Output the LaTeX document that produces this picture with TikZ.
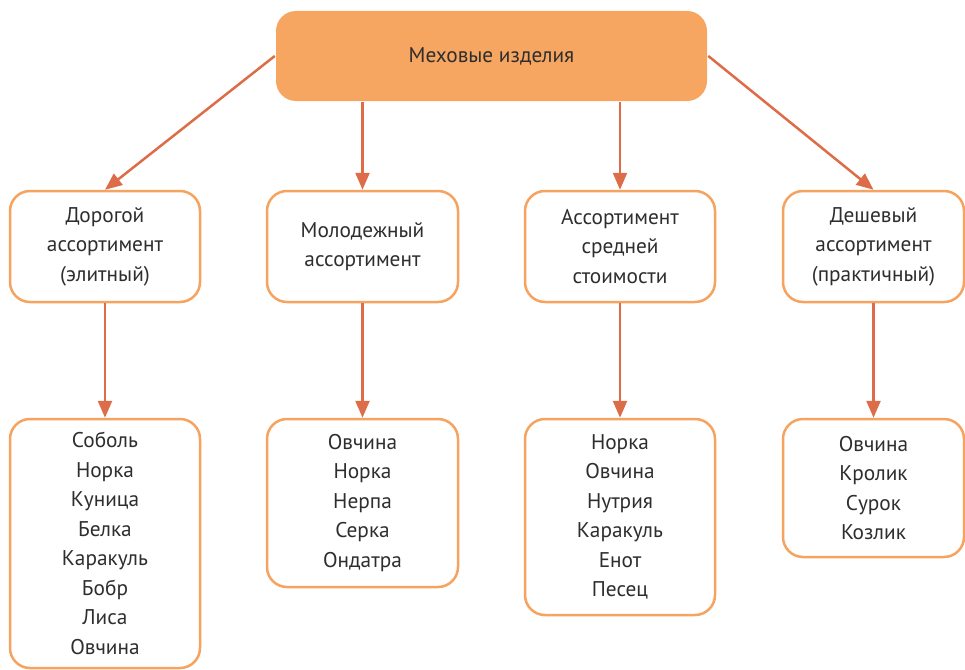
\documentclass[tikz,border=0pt]{standalone}
\usepackage{fontspec}
\setmainfont{PT Sans}
\usetikzlibrary{arrows.meta}
\definecolor{furfill}{HTML}{F7A662}
\definecolor{furedge}{HTML}{F6A35F}
\definecolor{furarrow}{HTML}{DD6D48}
\definecolor{furtext}{HTML}{2E2E2E}
\begin{document}
\begin{tikzpicture}[x=1pt,y=-1pt,
  box/.style={draw=furedge, line width=2.5pt, rounded corners=20pt, fill=white,
    inner sep=0pt, align=center, text=furtext,
    font=\fontsize{21.3}{29.5}\selectfont},
  headbox/.style={box, draw=none, fill=furfill},
  link/.style={draw=furarrow, line width=2.5pt, -{Triangle[length=17pt,width=14pt]}}]
\useasboundingbox (0,0) rectangle (965,669);

% root
\node[headbox, minimum width=431pt, minimum height=90pt] (top) at (491.5,56) {Меховые изделия};

% assortment groups
\node[box, minimum width=190pt, minimum height=111pt] (b1) at (105,246.5) {Дорогой\\ассортимент\\(элитный)};
\node[box, minimum width=191pt, minimum height=111pt] (b2) at (362.5,246.5) {Молодежный\\ассортимент};
\node[box, minimum width=190pt, minimum height=111pt] (b3) at (620,246.5) {Ассортимент\\средней\\стоимости};
\node[box, minimum width=181pt, minimum height=111pt] (b4) at (873.5,246.5) {Дешевый\\ассортимент\\(практичный)};

% fur lists
\node[box, minimum width=190pt, minimum height=249pt] (c1) at (105,543.5) {Соболь\\Норка\\Куница\\Белка\\Каракуль\\Бобр\\Лиса\\Овчина};
\node[box, minimum width=191pt, minimum height=168pt] (c2) at (362.5,503) {Овчина\\Норка\\Нерпа\\Серка\\Ондатра};
\node[box, minimum width=190pt, minimum height=196pt] (c3) at (620,517) {Норка\\Овчина\\Нутрия\\Каракуль\\Енот\\Песец};
\node[box, minimum width=181pt, minimum height=138pt] (c4) at (873.5,488) {Овчина\\Кролик\\Сурок\\Козлик};

% connectors
\draw[link] (top.west) -- (b1.north);
\draw[link] (b2.north |- top.south) -- (b2.north);
\draw[link] (b3.north |- top.south) -- (b3.north);
\draw[link] (top.east) -- (b4.north);
\draw[link] (b1.south) -- (c1.north);
\draw[link] (b2.south) -- (c2.north);
\draw[link] (b3.south) -- (c3.north);
\draw[link] (b4.south) -- (c4.north);
\end{tikzpicture}
\end{document}
